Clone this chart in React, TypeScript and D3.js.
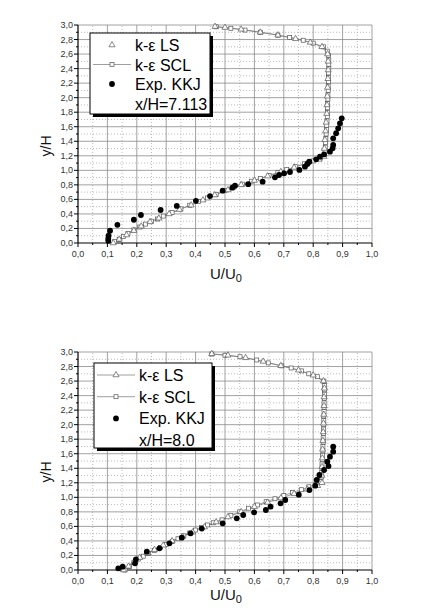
import React, { useRef, useEffect } from 'react';
import * as d3 from 'd3';

type Pt = [number, number];

// axis ticks
const xMajor = [0, 0.1, 0.2, 0.3, 0.4, 0.5, 0.6, 0.7, 0.8, 0.9, 1.0];
const xMinor = [0.05, 0.15, 0.25, 0.35, 0.45, 0.55, 0.65, 0.75, 0.85, 0.95];
const yMajor = [0, 0.2, 0.4, 0.6, 0.8, 1.0, 1.2, 1.4, 1.6, 1.8, 2.0, 2.2, 2.4, 2.6, 2.8, 3.0];
const yMinor = [0.1, 0.3, 0.5, 0.7, 0.9, 1.1, 1.3, 1.5, 1.7, 1.9, 2.1, 2.3, 2.5, 2.7, 2.9];

// x/H = 7.113
const topSCL: Pt[] = [
  [0.125, 0.02], [0.14, 0.05], [0.155, 0.09], [0.17, 0.13], [0.19, 0.18], [0.21, 0.22], [0.23, 0.26],
  [0.25, 0.30], [0.27, 0.33], [0.29, 0.37], [0.32, 0.42], [0.35, 0.47], [0.38, 0.52], [0.41, 0.57],
  [0.44, 0.62], [0.47, 0.67], [0.50, 0.72], [0.53, 0.77], [0.56, 0.81], [0.59, 0.85], [0.62, 0.89],
  [0.65, 0.93], [0.68, 0.97], [0.71, 1.01], [0.74, 1.05], [0.77, 1.09], [0.80, 1.13], [0.825, 1.17],
  [0.838, 1.21], [0.840, 1.26], [0.841, 1.32], [0.842, 1.38], [0.843, 1.44], [0.844, 1.50],
  [0.845, 1.56], [0.846, 1.62], [0.847, 1.68], [0.848, 1.74], [0.848, 1.80], [0.849, 1.86],
  [0.849, 1.92], [0.850, 1.98], [0.850, 2.04], [0.851, 2.10], [0.851, 2.16], [0.852, 2.22],
  [0.852, 2.28], [0.852, 2.34], [0.853, 2.40], [0.853, 2.46], [0.853, 2.52], [0.852, 2.58],
  [0.848, 2.64], [0.835, 2.70], [0.80, 2.75], [0.766, 2.79], [0.72, 2.83], [0.68, 2.86],
  [0.62, 2.90], [0.568, 2.93], [0.52, 2.955], [0.47, 2.975]
];
const topLS: Pt[] = [
  [0.12, 0.0], [0.14, 0.05], [0.165, 0.11], [0.19, 0.17], [0.215, 0.23], [0.245, 0.29], [0.275, 0.34],
  [0.31, 0.40], [0.345, 0.46], [0.385, 0.52], [0.425, 0.59], [0.465, 0.66], [0.51, 0.73],
  [0.555, 0.80], [0.60, 0.86], [0.645, 0.92], [0.69, 0.98], [0.735, 1.04], [0.78, 1.10],
  [0.82, 1.15], [0.836, 1.19], [0.838, 1.30], [0.840, 1.42], [0.842, 1.54], [0.844, 1.66],
  [0.846, 1.78], [0.847, 1.90], [0.848, 2.02], [0.849, 2.14], [0.850, 2.26], [0.851, 2.38],
  [0.851, 2.50], [0.849, 2.60], [0.83, 2.70], [0.79, 2.76], [0.74, 2.81], [0.68, 2.86],
  [0.62, 2.90], [0.555, 2.94], [0.50, 2.965], [0.466, 2.978]
];
const topExp: Pt[] = [
  [0.103, 0.03], [0.103, 0.06], [0.104, 0.10], [0.109, 0.17], [0.134, 0.25], [0.19, 0.32],
  [0.214, 0.385], [0.281, 0.454], [0.336, 0.51], [0.401, 0.58], [0.449, 0.646], [0.492, 0.72],
  [0.525, 0.761], [0.534, 0.789], [0.579, 0.81], [0.628, 0.844], [0.670, 0.904], [0.684, 0.936],
  [0.701, 0.959], [0.721, 0.977], [0.753, 1.005], [0.772, 1.05], [0.780, 1.087], [0.787, 1.119],
  [0.810, 1.152], [0.823, 1.188], [0.837, 1.22], [0.857, 1.257], [0.866, 1.303], [0.868, 1.349],
  [0.868, 1.44], [0.878, 1.51], [0.885, 1.578], [0.891, 1.647], [0.897, 1.716]
];

// x/H = 8.0
const botSCL: Pt[] = [
  [0.16, 0.0], [0.175, 0.05], [0.19, 0.10], [0.205, 0.15], [0.222, 0.19], [0.24, 0.23], [0.26, 0.27],
  [0.28, 0.31], [0.30, 0.35], [0.32, 0.39], [0.34, 0.43], [0.36, 0.47], [0.38, 0.51], [0.40, 0.55],
  [0.42, 0.585], [0.44, 0.62], [0.46, 0.65], [0.49, 0.69], [0.52, 0.75], [0.55, 0.80], [0.58, 0.85],
  [0.61, 0.895], [0.64, 0.94], [0.67, 0.98], [0.70, 1.025], [0.73, 1.065], [0.76, 1.105],
  [0.785, 1.145], [0.81, 1.18], [0.826, 1.22], [0.828, 1.28], [0.829, 1.34], [0.830, 1.40],
  [0.830, 1.46], [0.831, 1.52], [0.832, 1.58], [0.833, 1.64], [0.833, 1.70], [0.834, 1.76],
  [0.834, 1.82], [0.835, 1.88], [0.835, 1.94], [0.836, 2.00], [0.836, 2.06], [0.836, 2.12],
  [0.837, 2.18], [0.837, 2.24], [0.837, 2.30], [0.838, 2.36], [0.838, 2.42], [0.838, 2.48],
  [0.838, 2.54], [0.836, 2.60], [0.815, 2.66], [0.785, 2.70], [0.76, 2.74], [0.725, 2.78],
  [0.693, 2.81], [0.647, 2.85], [0.608, 2.89], [0.551, 2.935], [0.50, 2.955], [0.455, 2.972]
];
const botLS: Pt[] = [
  [0.155, 0.0], [0.172, 0.05], [0.19, 0.11], [0.21, 0.17], [0.235, 0.23], [0.26, 0.28],
  [0.29, 0.34], [0.32, 0.40], [0.355, 0.46], [0.39, 0.52], [0.43, 0.59], [0.47, 0.66],
  [0.51, 0.73], [0.555, 0.80], [0.60, 0.87], [0.645, 0.93], [0.69, 0.99], [0.735, 1.05],
  [0.78, 1.11], [0.815, 1.16], [0.830, 1.20], [0.829, 1.30], [0.830, 1.42], [0.831, 1.54],
  [0.832, 1.66], [0.833, 1.78], [0.834, 1.90], [0.835, 2.02], [0.836, 2.14], [0.837, 2.26],
  [0.837, 2.38], [0.838, 2.50], [0.835, 2.60], [0.80, 2.68], [0.75, 2.75], [0.69, 2.81],
  [0.63, 2.87], [0.57, 2.92], [0.51, 2.955], [0.455, 2.975]
];
const botExp: Pt[] = [
  [0.137, 0.023], [0.152, 0.046], [0.194, 0.092], [0.197, 0.147], [0.234, 0.252], [0.277, 0.298],
  [0.311, 0.367], [0.353, 0.445], [0.383, 0.505], [0.421, 0.57], [0.492, 0.642], [0.540, 0.711],
  [0.562, 0.757], [0.599, 0.794], [0.639, 0.826], [0.655, 0.871], [0.689, 0.917], [0.705, 0.963],
  [0.751, 1.036], [0.787, 1.10], [0.807, 1.16], [0.812, 1.24], [0.821, 1.307], [0.837, 1.376],
  [0.852, 1.43], [0.848, 1.49], [0.857, 1.56], [0.868, 1.628], [0.868, 1.697]
];

const legendLabels = ['k-\u03b5 LS', 'k-\u03b5 SCL', 'Exp. KKJ'];

const fmt = (v: number) => v.toFixed(1).replace('.', ',');

const FONT = 'Liberation Sans, Arial, sans-serif';

const panels = [
  {
    ls: topLS, scl: topSCL, exp: topExp, note: 'x/H=7.113', lsLine: false,
    top: 25, bottom: 243, titleY: 279, legend: { x: 90, y: 33, w: 120, h: 81, row: 19.5 }, yLabelY: 146
  },
  {
    ls: botLS, scl: botSCL, exp: botExp, note: 'x/H=8.0', lsLine: true,
    top: 352, bottom: 570, titleY: 600, legend: { x: 94, y: 363, w: 118, h: 85, row: 21.7 }, yLabelY: 472
  }
];

const W = 430;
const H = 608;

const App = () => {
  const ref = useRef<SVGSVGElement>(null);

  useEffect(() => {
    const svg = d3.select(ref.current);
    svg.selectAll('*').remove();

    svg.append('rect').attr('width', W).attr('height', H).attr('fill', '#fff');

    panels.forEach(p => {
      const x = d3.scaleLinear().domain([0, 1]).range([78, 372]);
      const y = d3.scaleLinear().domain([0, 3]).range([p.bottom, p.top]);
      const g = svg.append('g');

      // minor grid (dotted)
      g.selectAll('.vmin').data(xMinor).join('line')
        .attr('x1', d => x(d)).attr('x2', d => x(d))
        .attr('y1', y(0)).attr('y2', y(3))
        .attr('stroke', '#aaa').attr('stroke-width', 0.8).attr('stroke-dasharray', '1,2');
      g.selectAll('.hmin').data(yMinor).join('line')
        .attr('x1', x(0)).attr('x2', x(1))
        .attr('y1', d => y(d)).attr('y2', d => y(d))
        .attr('stroke', '#aaa').attr('stroke-width', 0.8).attr('stroke-dasharray', '1,2');

      // major grid
      g.selectAll('.vmaj').data(xMajor.slice(1)).join('line')
        .attr('x1', d => x(d)).attr('x2', d => x(d))
        .attr('y1', y(0)).attr('y2', y(3))
        .attr('stroke', '#8a8a8a').attr('stroke-width', 0.8);
      g.selectAll('.hmaj').data(yMajor.slice(1)).join('line')
        .attr('x1', x(0)).attr('x2', x(1))
        .attr('y1', d => y(d)).attr('y2', d => y(d))
        .attr('stroke', '#8a8a8a').attr('stroke-width', 0.8);

      // axes
      g.append('line').attr('x1', x(0)).attr('x2', x(1)).attr('y1', y(0)).attr('y2', y(0))
        .attr('stroke', '#000').attr('stroke-width', 1.2);
      g.append('line').attr('x1', x(0)).attr('x2', x(0)).attr('y1', y(0)).attr('y2', y(3))
        .attr('stroke', '#000').attr('stroke-width', 1.2);

      g.selectAll('.xt').data(xMajor).join('line')
        .attr('x1', d => x(d)).attr('x2', d => x(d))
        .attr('y1', y(0)).attr('y2', y(0) + 4).attr('stroke', '#000');
      g.selectAll('.xtm').data(xMinor).join('line')
        .attr('x1', d => x(d)).attr('x2', d => x(d))
        .attr('y1', y(0)).attr('y2', y(0) + 2).attr('stroke', '#000');
      g.selectAll('.yt').data(yMajor).join('line')
        .attr('x1', x(0) - 4).attr('x2', x(0))
        .attr('y1', d => y(d)).attr('y2', d => y(d)).attr('stroke', '#000');
      g.selectAll('.ytm').data(yMinor).join('line')
        .attr('x1', x(0) - 2).attr('x2', x(0))
        .attr('y1', d => y(d)).attr('y2', d => y(d)).attr('stroke', '#000');

      // tick labels
      g.selectAll('.xl').data(xMajor).join('text')
        .attr('x', d => x(d)).attr('y', y(0) + 14)
        .attr('text-anchor', 'middle')
        .style('font-family', FONT).style('font-size', '9px').attr('fill', '#333')
        .text(d => fmt(d));
      g.selectAll('.yl').data(yMajor).join('text')
        .attr('x', x(0) - 5).attr('y', d => y(d) + 3)
        .attr('text-anchor', 'end')
        .style('font-family', FONT).style('font-size', '9px').attr('fill', '#333')
        .text(d => fmt(d));

      // axis titles
      const xt = g.append('text')
        .attr('x', 210).attr('y', p.titleY)
        .style('font-family', FONT).style('font-size', '15px').attr('fill', '#111');
      xt.append('tspan').text('U/U');
      xt.append('tspan').attr('dy', 3).style('font-size', '11px').text('0');

      g.append('text')
        .attr('transform', `translate(51, ${p.yLabelY}) rotate(-90)`)
        .attr('text-anchor', 'middle')
        .style('font-family', FONT).style('font-size', '14px').attr('fill', '#111')
        .text('y/H');

      // model curves
      const line = d3.line<Pt>().x(d => x(d[0])).y(d => y(d[1]));
      g.append('path').datum(p.scl).attr('d', line)
        .attr('fill', 'none').attr('stroke', '#777').attr('stroke-width', 0.7);
      g.append('path').datum(p.ls).attr('d', line)
        .attr('fill', 'none').attr('stroke', '#777').attr('stroke-width', 0.7);

      const sq = 4;
      g.selectAll('.sq').data(p.scl).join('rect')
        .attr('x', d => x(d[0]) - sq / 2).attr('y', d => y(d[1]) - sq / 2)
        .attr('width', sq).attr('height', sq)
        .attr('fill', '#fff').attr('stroke', '#555').attr('stroke-width', 0.7);

      const tri = d3.symbol().type(d3.symbolTriangle).size(16);
      g.selectAll('.tri').data(p.ls).join('path')
        .attr('d', tri)
        .attr('transform', d => `translate(${x(d[0])}, ${y(d[1])})`)
        .attr('fill', '#fff').attr('stroke', '#555').attr('stroke-width', 0.7);

      g.selectAll('.dot').data(p.exp).join('circle')
        .attr('cx', d => x(d[0])).attr('cy', d => y(d[1]))
        .attr('r', 2.9).attr('fill', '#000');

      // legend
      const L = p.legend;
      g.append('rect').attr('x', L.x + 3).attr('y', L.y + 3).attr('width', L.w).attr('height', L.h)
        .attr('fill', '#000');
      g.append('rect').attr('x', L.x).attr('y', L.y).attr('width', L.w).attr('height', L.h)
        .attr('fill', '#fff').attr('stroke', '#000').attr('stroke-width', 1);

      const symX = L.x + 22;
      const txtX = L.x + 45;
      const rowY = (i: number) => L.y + 12 + i * L.row;

      if (p.lsLine) {
        g.append('line').attr('x1', L.x + 3).attr('x2', L.x + 41)
          .attr('y1', rowY(0)).attr('y2', rowY(0)).attr('stroke', '#777').attr('stroke-width', 0.7);
      }
      g.append('path').attr('d', tri).attr('transform', `translate(${symX}, ${rowY(0)})`)
        .attr('fill', '#fff').attr('stroke', '#555').attr('stroke-width', 0.7);

      g.append('line').attr('x1', L.x + 3).attr('x2', L.x + 41)
        .attr('y1', rowY(1)).attr('y2', rowY(1)).attr('stroke', '#777').attr('stroke-width', 0.7);
      g.append('rect').attr('x', symX - sq / 2).attr('y', rowY(1) - sq / 2)
        .attr('width', sq).attr('height', sq)
        .attr('fill', '#fff').attr('stroke', '#555').attr('stroke-width', 0.7);

      g.append('circle').attr('cx', symX).attr('cy', rowY(2)).attr('r', 2.9).attr('fill', '#000');

      g.selectAll('.lt').data([...legendLabels, p.note]).join('text')
        .attr('x', txtX).attr('y', (d, i) => rowY(i) + 6)
        .style('font-family', FONT).style('font-size', '16px').attr('fill', '#000')
        .text(d => d);
    });
  }, []);

  return (
    <svg ref={ref} width={W} height={H}
      style={{ position: 'absolute', left: 0, top: 0, display: 'block' }} />
  );
};

export default App;
